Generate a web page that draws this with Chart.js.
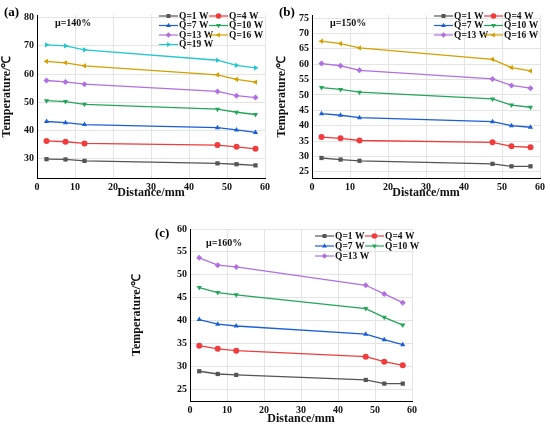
<!DOCTYPE html><html><head><meta charset="utf-8">
<script src="https://cdn.jsdelivr.net/npm/chart.js@4"></script>
<style>body{margin:0;background:#fff;width:550px;height:426px;position:relative;overflow:hidden}
.c{position:absolute}.lab{position:absolute;font:bold 13px "Liberation Serif";}</style></head><body>
<div class="c" style="left:0;top:0;width:275px;height:200px"><canvas id="a"></canvas></div>
<div class="c" style="left:275px;top:0;width:275px;height:200px"><canvas id="b"></canvas></div>
<div class="c" style="left:130px;top:210px;width:290px;height:216px"><canvas id="c"></canvas></div>
<div class="lab" style="left:4px;top:4px">(a)</div>
<div class="lab" style="left:279px;top:4px">(b)</div>
<div class="lab" style="left:155px;top:225px">(c)</div>
<script>
const distances=[2.5,7.5,12.5,47.5,52.5,57.5];
const seriesNames=["Q=1 W","Q=4 W","Q=7 W","Q=10 W","Q=13 W","Q=16 W","Q=19 W"];
const a140=[[29.7,29.6,29.1,28.2,27.9,27.5],[36.2,35.9,35.3,34.7,34.1,33.4],[43.1,42.7,42.0,40.9,40.1,39.2],[50.5,50.2,49.2,47.5,46.4,45.6],[57.7,57.2,56.4,53.8,52.3,51.6],[64.5,64.0,62.9,59.7,58.1,57.1],[70.4,70.0,68.6,64.9,63.1,62.2]];
const b150=[[29.5,29.0,28.6,27.6,26.8,26.8],[36.3,35.9,35.2,34.6,33.3,33.0],[43.9,43.4,42.6,41.3,40.0,39.5],[52.4,51.8,50.9,48.7,46.7,46.0],[60.2,59.5,58.0,55.2,53.1,52.2],[67.5,66.7,65.3,61.6,58.9,57.8]];
const c160=[[28.9,28.3,28.1,27.0,26.2,26.2],[34.5,33.8,33.4,32.1,31.0,30.2],[40.2,39.2,38.8,37.0,35.8,34.7],[47.2,46.1,45.6,42.6,40.7,39.0],[53.7,52.1,51.7,47.7,45.8,43.9]];
const ticksA=[30,40,50,60,70,80],ticksB=[25,30,35,40,45,50,55,60,65,70,75],ticksC=[25,30,35,40,45,50,55,60];
const colors=["#555555","#f03c3c","#1a5fd6","#24a65a","#b070e0","#d4a000","#22c8d0"];
const styles=[["rect",0],["circle",0],["triangle",0],["triangle",180],["rectRot",0],["triangle",270],["triangle",90]];
const F='"Liberation Serif"';
const leg={id:'leg',afterDraw(ch){const o=ch.options.plugins.leg;const ctx=ch.ctx;ctx.save();
ch.data.datasets.forEach((d,i)=>{const x=ch.chartArea.left+o.x+(i%2)*o.cw,y=ch.chartArea.top+o.y+Math.floor(i/2)*o.rh;
ctx.strokeStyle=d.borderColor;ctx.lineWidth=1.2;ctx.beginPath();ctx.moveTo(x,y);ctx.lineTo(x+19,y);ctx.stroke();
ctx.fillStyle=d.borderColor;Chart.helpers.drawPoint(ctx,{pointStyle:d.pointStyle,rotation:d.rotation,radius:2.8,borderWidth:0},x+9.5,y);
ctx.fillStyle='#111';ctx.font='bold 9.5px '+F;ctx.textBaseline='middle';ctx.fillText(d.label,x+20,y+0.5);});
ctx.font='bold 10px '+F;ctx.fillText(o.mu,ch.chartArea.left+o.mx,ch.chartArea.top+o.my);ctx.restore();}};
function mk(id,data,min,max,ticks,L,R,T,B,W,H,lg){
 new Chart(document.getElementById(id),{type:'line',plugins:[leg],
 data:{datasets:data.map((v,i)=>({label:seriesNames[i],data:distances.map((x,j)=>({x,y:v[j]})),borderColor:colors[i],backgroundColor:colors[i],
  pointStyle:styles[i][0],rotation:styles[i][1],pointRadius:3,borderWidth:1.3,pointBorderWidth:0}))},
 options:{responsive:true,maintainAspectRatio:false,animation:false,layout:{padding:{left:0,top:T,right:W-R,bottom:0}},
  plugins:{legend:{display:false},tooltip:{enabled:false},leg:lg},
  scales:{x:{type:'linear',min:0,max:60,afterBuildTicks:s=>{s.ticks=[0,10,20,30,40,50,60].map(v=>({value:v}))},
    afterFit:s=>{s.height=H-B},grid:{color:'#e4e4e4',drawTicks:false},border:{color:'#000',width:1},
    ticks:{color:'#111',font:{family:F,weight:'bold',size:10},padding:3,maxRotation:0},
    title:{display:true,text:'Distance/mm',color:'#111',font:{family:F,weight:'bold',size:12},padding:0}},
   y:{min,max,afterBuildTicks:s=>{s.ticks=ticks.map(v=>({value:v}))},afterFit:s=>{s.width=L},
    grid:{color:'#e4e4e4',drawTicks:false},border:{color:'#000',width:1},
    ticks:{color:'#111',font:{family:F,weight:'bold',size:10},padding:3},
    title:{display:true,text:'Temperature/℃',color:'#111',font:{family:F,weight:'bold',size:12},padding:0}}}}});
}
mk('a',a140,23,81,ticksA,37,265,15,178,275,200,{x:122,y:1,cw:50,rh:9.5,mu:'μ=140%',mx:18,my:8});
mk('b',b150,23,76,ticksB,37,265,15,178,275,200,{x:122,y:1,cw:50,rh:9.5,mu:'μ=150%',mx:18,my:8});
mk('c',c160,22.4,60,ticksC,60,285,19,191,290,216,{x:125,y:7,cw:50,rh:10,mu:'μ=160%',mx:16,my:14});
</script></body></html>
